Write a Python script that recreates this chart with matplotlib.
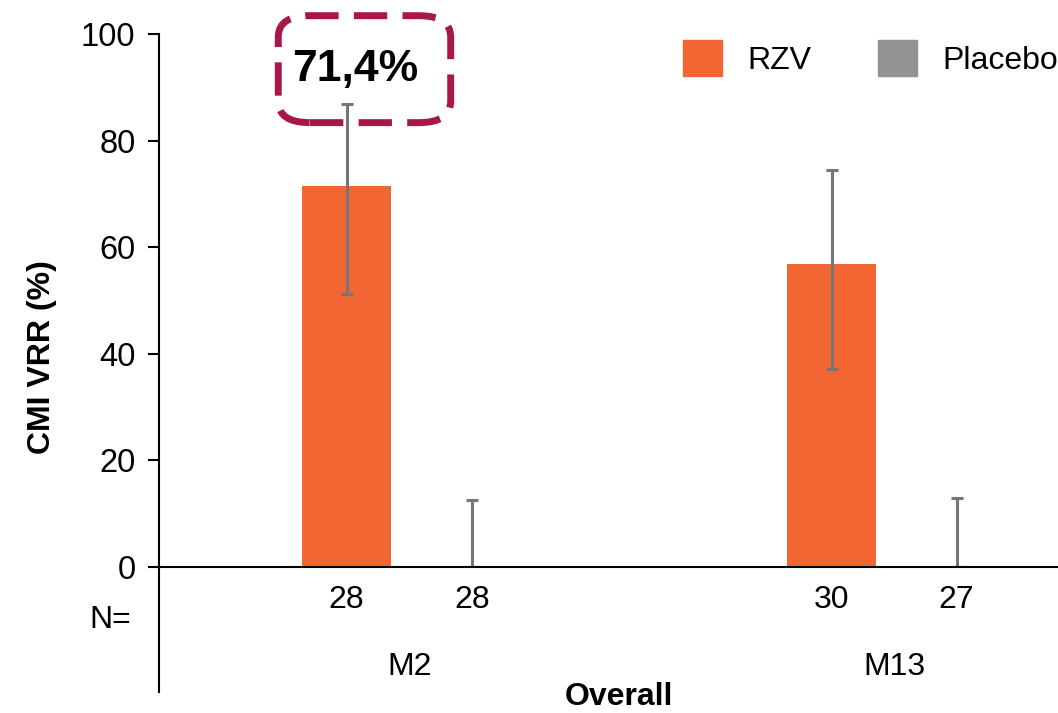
import matplotlib
matplotlib.use('Agg')
import matplotlib.pyplot as plt
import numpy as np
from matplotlib.patches import FancyBboxPatch, Patch

plt.rcParams['font.family'] = ['Liberation Sans', 'DejaVu Sans']

groups = ['M2', 'M13']
rzv = [71.4, 56.8]
rzv_lo = [51.2, 37.1]
rzv_hi = [86.9, 74.5]
placebo = [0.0, 0.0]
placebo_lo = [0.0, 0.0]
placebo_hi = [12.6, 12.9]
n_rzv = [28, 30]
n_placebo = [28, 27]

orange = '#F26633'
grey = '#939393'
err_col = '#767676'
box_col = '#A6174A'

fig = plt.figure(figsize=(10.58, 7.13), dpi=100)
ax = fig.add_axes([0.1503, 0.2048, 0.8497, 0.7475])

x = np.arange(len(groups))
off = 0.129
w = 0.1835

ax.bar(x - off, rzv, w, color=orange, zorder=2)
ax.bar(x + off, placebo, w, color=grey, zorder=2)

err_kw = dict(fmt='none', ecolor=err_col, elinewidth=2.2, capsize=4.5, capthick=2.2, zorder=3)
ax.errorbar(x - off, rzv, yerr=[np.subtract(rzv, rzv_lo), np.subtract(rzv_hi, rzv)], **err_kw)
ax.errorbar(x + off, placebo, yerr=[np.subtract(placebo, placebo_lo), np.subtract(placebo_hi, placebo)], **err_kw)

ax.set_xlim(-0.516, 1.338)
ax.set_ylim(0, 100)
ax.set_yticks(range(0, 101, 20))
ax.set_xticks([])
ax.tick_params(axis='y', labelsize=23.5, length=8, width=1.5, pad=9)
for s in ['top', 'right']:
    ax.spines[s].set_visible(False)
ax.spines['left'].set_linewidth(1.5)
ax.spines['bottom'].set_linewidth(1.5)
ax.spines['bottom'].set_zorder(4)
# left axis runs on down past zero into the label area
ax.plot([0, 0], [0, -0.2345], transform=ax.transAxes, color='black', lw=1.5, clip_on=False)

trans = ax.get_xaxis_transform()
for i in range(len(groups)):
    ax.text(x[i] - off, -0.062, str(n_rzv[i]), transform=trans, ha='center', va='center', fontsize=23)
    ax.text(x[i] + off, -0.062, str(n_placebo[i]), transform=trans, ha='center', va='center', fontsize=23)
    ax.text(x[i], -0.188, groups[i], transform=trans, ha='center', va='center', fontsize=23)
ax.text(-0.031, -0.0995, 'N=', transform=ax.transAxes, ha='right', va='center', fontsize=23)
ax.text(0.512, -0.244, 'Overall', transform=ax.transAxes, ha='center', va='center',
        fontsize=23, fontweight='bold')

fig.text(0.040, 0.499, 'CMI VRR (%)', rotation=90, ha='center', va='center',
         fontsize=23, fontweight='bold')

handles = [Patch(color=orange, label='RZV'), Patch(color=grey, label='Placebo')]
ax.legend(handles=handles, loc='upper right', bbox_to_anchor=(1.0, 1 - 40 / 713),
          bbox_transform=fig.transFigure, ncol=2, frameon=False, fontsize=23,
          handlelength=1.22, handleheight=1.35, handletextpad=0.78, columnspacing=2.1,
          borderpad=0, borderaxespad=0)

# dashed callout with the M2 efficacy value
box = FancyBboxPatch((0.263, 0.828), 0.163, 0.150, transform=fig.transFigure,
                     boxstyle='round,pad=0,rounding_size=0.03', fill=False,
                     edgecolor=box_col, lw=5, linestyle=(0, (4.8, 2.2)))
fig.patches.append(box)
label = f'{rzv[0]:.1f}'.replace('.', ',') + '%'
fig.text(0.336, 0.903, label, ha='center', va='center', fontsize=32, fontweight='bold')

fig.savefig('out.png', dpi=100)
